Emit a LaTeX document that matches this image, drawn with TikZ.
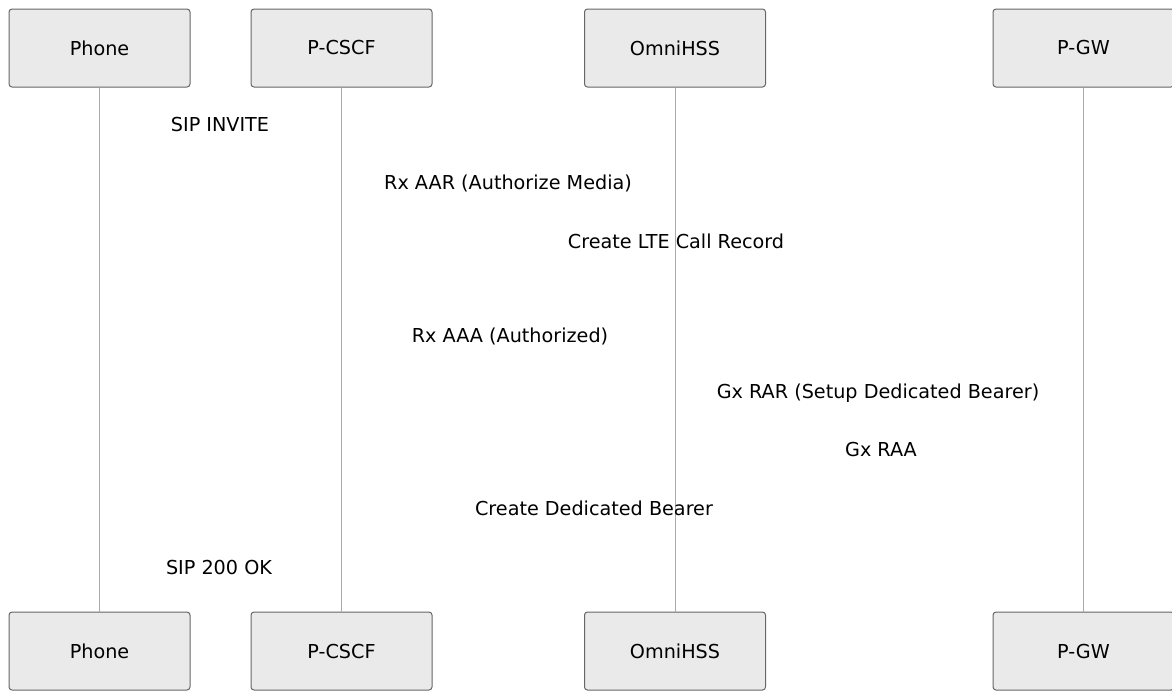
\documentclass[tikz,border=0pt]{standalone}
\usepackage{fontspec}
\setmainfont{DejaVu Sans}
\usetikzlibrary{positioning}
\definecolor{SeqInk}{HTML}{000000}
\definecolor{SeqEdge}{HTML}{666666}
\definecolor{SeqBox}{HTML}{EAEAEA}
\definecolor{SeqLife}{HTML}{AAAAAA}
\tikzset{
  every node/.style={font=\fontsize{19.2}{23}\selectfont, text=SeqInk},
  actor/.style={draw=SeqEdge, line width=1pt, fill=SeqBox, rounded corners=3pt,
    minimum width=181pt, minimum height=78pt, inner sep=0pt},
  lifeline/.style={draw=SeqLife, line width=1pt},
  message/.style={inner sep=0pt},
}
\begin{document}
\begin{tikzpicture}[x=1pt,y=-1pt]
  \useasboundingbox (0,0) rectangle (1172,697);

  % Participants, top row
  \node[actor] (phoneTop) at (99.5,48) {Phone};
  \node[actor] (pcscfTop) at (341.5,48) {P-CSCF};
  \node[actor] (hssTop) at (675,48) {OmniHSS};
  \node[actor] (pgwTop) at (1083.5,48) {P-GW};

  % Participants, bottom row
  \node[actor] (phoneBot) at (99.5,651) {Phone};
  \node[actor] (pcscfBot) at (341.5,651) {P-CSCF};
  \node[actor] (hssBot) at (675,651) {OmniHSS};
  \node[actor] (pgwBot) at (1083.5,651) {P-GW};

  % Lifelines
  \draw[lifeline] (phoneTop) -- (phoneBot);
  \draw[lifeline] (pcscfTop) -- (pcscfBot);
  \draw[lifeline] (hssTop) -- (hssBot);
  \draw[lifeline] (pgwTop) -- (pgwBot);

  % Message texts
  \node[message] (invite) at (220,125) {SIP INVITE};
  \node[message] (aar) at (508,183) {Rx AAR (Authorize Media)};
  \node[message] (record) at (676,241) {Create LTE Call Record};
  \node[message] (aaa) at (510,336) {Rx AAA (Authorized)};
  \node[message] (rar) at (878,393) {Gx RAR (Setup Dedicated Bearer)};
  \node[message] (raa) at (881,450) {Gx RAA};
  \node[message] (bearer) at (594,508) {Create Dedicated Bearer};
  \node[message] (ok) at (219,567) {SIP 200 OK};
\end{tikzpicture}
\end{document}
